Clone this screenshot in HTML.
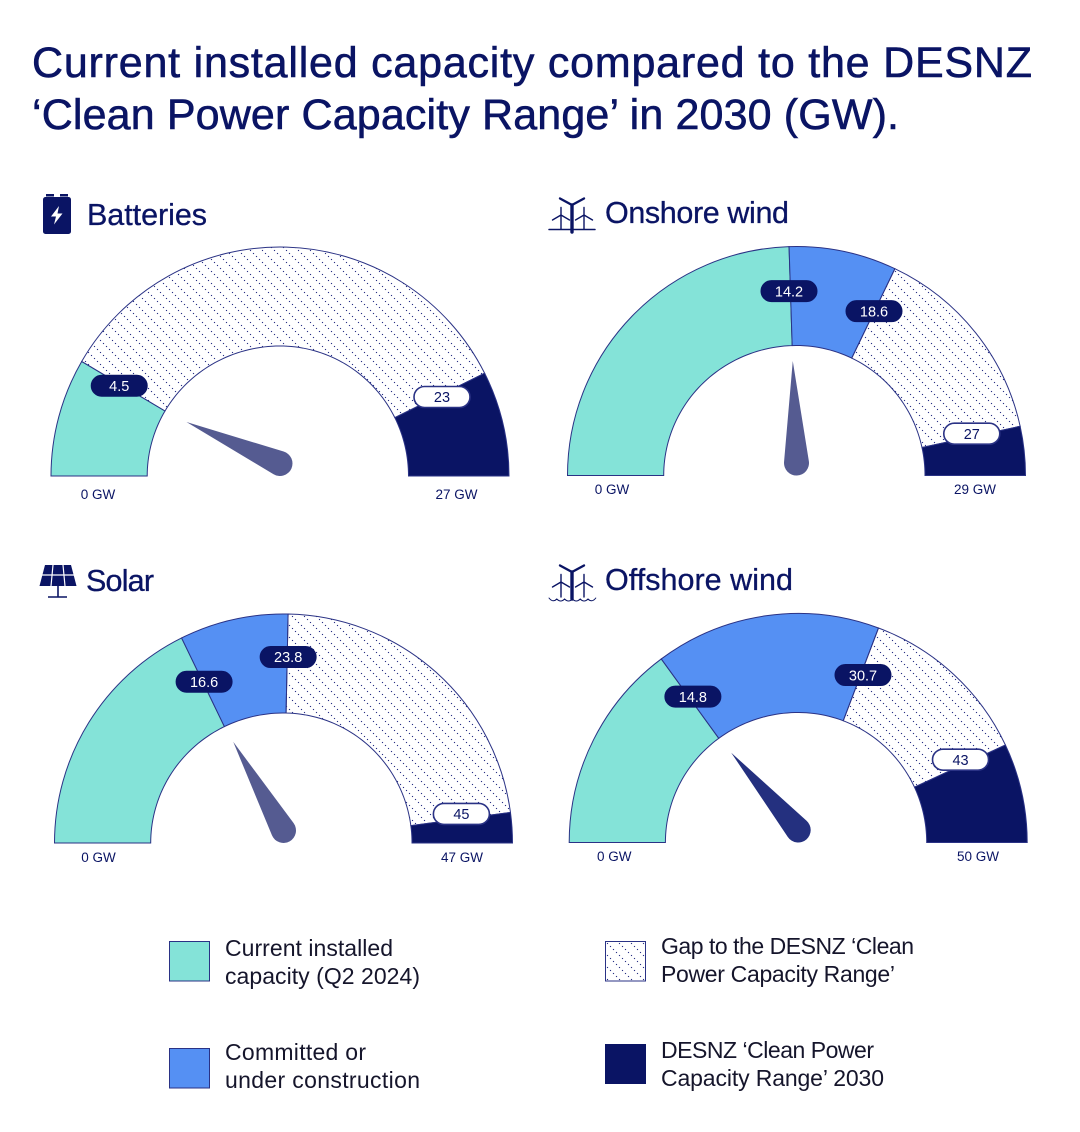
<!DOCTYPE html>
<html lang="en">
<head>
<meta charset="utf-8">
<title>Current installed capacity compared to the DESNZ Clean Power Capacity Range</title>
<style>
html,body{margin:0;padding:0;background:#fff;width:1080px;height:1132px;overflow:hidden}
svg{display:block}
text{font-family:"Liberation Sans",sans-serif}
.title{font-size:43px;fill:#0a1464;stroke:#0a1464;stroke-width:.6px}
.sub{font-size:30.5px;fill:#0a1464;stroke:#0a1464;stroke-width:.3px}
.legend{font-size:23px;fill:#15152b}
.axis{font-size:13.5px;fill:#0a1464}
.pill{font-size:14.5px;text-anchor:middle}
</style>
</head>
<body>
<svg id="chart" xmlns="http://www.w3.org/2000/svg" width="1080" height="1132" viewBox="0 0 1080 1132">
  <defs>
    <pattern id="hatch" width="12" height="12" patternUnits="userSpaceOnUse">
      <circle cx="1.500" cy="1.500" r=".65" fill="#2a3285"/>
      <circle cx="4.500" cy="4.500" r=".65" fill="#2a3285"/>
      <circle cx="7.500" cy="7.500" r=".65" fill="#2a3285"/>
      <circle cx="10.500" cy="10.500" r=".65" fill="#2a3285"/>
    </pattern>
  </defs>
  <rect width="1080" height="1132" fill="#fff"/>

  <g>
    <text class="title" x="32" y="77" textLength="1000" lengthAdjust="spacing">Current installed capacity compared to the DESNZ</text>
    <text class="title" x="32" y="129" textLength="867" lengthAdjust="spacing">‘Clean Power Capacity Range’ in 2030 (GW).</text>
  </g>

  <g>
    <g>
      <rect x="46" y="194" width="8" height="2.500" fill="#0a1464"/>
      <rect x="60" y="194" width="8" height="2.500" fill="#0a1464"/>
      <rect x="43" y="197" width="28" height="37" rx="2.500" fill="#0a1464"/>
      <path d="M59 206 L51 216.500 H56 L54 224.500 L62.500 213.500 H57.500 Z" fill="#fff"/>
    </g>
    <text class="sub" x="87" y="225" textLength="120" lengthAdjust="spacing">Batteries</text>
  </g>

  <g>
    <g fill="none" stroke="#0a1464" stroke-linecap="round">
      <path d="M549 229.500 H595" stroke-width="1.500"/>
      <path d="M572 205 L560 198.500 M572 205 L584 198.500" stroke-width="2.400"/>
      <path d="M572 205 V232" stroke-width="3.400"/>
      <path d="M561 207.500 V229 M561 215 L552.500 220 M561 215 L569.500 220" stroke-width="1.400"/>
      <path d="M584 207.500 V229 M584 215 L575.500 220 M584 215 L592.500 220" stroke-width="1.400"/>
    </g>
    <text class="sub" x="605" y="223" textLength="184" lengthAdjust="spacing">Onshore wind</text>
  </g>

  <g>
    <g>
      <path d="M45 565 H71 L76.500 586 H39.500 Z" fill="#0a1464"/>
      <path d="M53 565 L51 586 M63 565 L65 586 M42 575 H74" stroke="#fff" stroke-width="1.200" fill="none"/>
      <path d="M58 586 V597 M48 597 H67" stroke="#0a1464" stroke-width="1.600" fill="none"/>
    </g>
    <text class="sub" x="86" y="591" textLength="68" lengthAdjust="spacing">Solar</text>
  </g>

  <g>
    <g fill="none" stroke="#0a1464" stroke-linecap="round">
      <path d="M572 572 L560 565.500 M572 572 L584 565.500" stroke-width="2.400"/>
      <path d="M572 572 V599" stroke-width="3.400"/>
      <path d="M561 574.500 V597 M561 582 L552.500 587 M561 582 L569.500 587" stroke-width="1.400"/>
      <path d="M584 574.500 V597 M584 582 L575.500 587 M584 582 L592.500 587" stroke-width="1.400"/>
      <path d="M549 598 q3.900 5 7.800 1 q3.900 4 7.800 0 q3.900 4 7.800 0 q3.900 4 7.800 0 q3.900 4 7.800 0 q3.900 4 7.800 -1" stroke-width="1"/>
    </g>
    <text class="sub" x="605" y="590" textLength="188" lengthAdjust="spacing">Offshore wind</text>
  </g>

  <g id="gauges"></g>

  <g>
    <g>
      <rect x="169.500" y="941.500" width="40" height="39.500" fill="#84e3d8" stroke="#2a3285"/>
      <text class="legend" x="225" y="956" textLength="168" lengthAdjust="spacing">Current installed</text>
      <text class="legend" x="225" y="984" textLength="195" lengthAdjust="spacing">capacity (Q2 2024)</text>
    </g>
    <g>
      <rect x="169.500" y="1048.500" width="40" height="39.500" fill="#5590f3" stroke="#2a3285"/>
      <text class="legend" x="225" y="1060" textLength="141" lengthAdjust="spacing">Committed or</text>
      <text class="legend" x="225" y="1088" textLength="195" lengthAdjust="spacing">under construction</text>
    </g>
    <g>
      <rect x="605.500" y="941.500" width="40" height="39.500" fill="url(#hatch)" stroke="#2a3285"/>
      <text class="legend" x="661" y="954" textLength="253" lengthAdjust="spacing">Gap to the DESNZ ‘Clean</text>
      <text class="legend" x="661" y="982" textLength="234" lengthAdjust="spacing">Power Capacity Range’</text>
    </g>
    <g>
      <rect x="605" y="1044" width="41" height="40" fill="#0a1464"/>
      <text class="legend" x="661" y="1058" textLength="213" lengthAdjust="spacing">DESNZ ‘Clean Power</text>
      <text class="legend" x="661" y="1086" textLength="223" lengthAdjust="spacing">Capacity Range’ 2030</text>
    </g>
  </g>
</svg>

<script>
// Chart data
const gaugeKeys = ['batteries', 'onshore-wind', 'solar', 'offshore-wind'];
const axisMaxValues = [27, 29, 47, 50];
const installedValues = [4.5, 14.2, 16.6, 14.8];
const committedValues = [null, 18.6, 23.8, 30.7];
const rangeStartValues = [23, 27, 45, 43];
const axisMinLabels = ['0 GW', '0 GW', '0 GW', '0 GW'];
const axisMaxLabels = ['27 GW', '29 GW', '47 GW', '50 GW'];

// Layout (not data)
const centerXs = [280, 796.5, 283.5, 798.2];
const baselineYs = [476, 475.5, 843, 842.5];
const needleColors = ['#555b91', '#555b91', '#555b91', '#24307f'];
const needleLengths = [108, 114.5, 113, 112];
const axisLabelDrops = [23, 18.5, 19, 18.5];
const axisMinOffsets = [-182, -184.5, -185, -184];
const axisMaxOffsets = [176.5, 178.5, 178.5, 179.8];
const installedPillNudges = [[-1, 2], [-1.5, 0], [2.7, 4], [5, 2]];
const committedPillNudges = [[0, 0], [-0.7, 0], [1, -4], [1, 3]];
const rangePillNudges = [[0.7, 2], [-1, -3], [-1, -5], [-1, -6]];
const OUTER_R = 229;
const INNER_RX_LEFT = 132.8;
const INNER_RX_RIGHT = 128.5;
const INNER_RY = 130;
const HUB_R = 12.5;
const NS = 'http://www.w3.org/2000/svg';
const root = document.getElementById('gauges');

function angleOf(value, max) {
  return Math.PI * value / max;
}
function polar(cx, cy, r, a) {
  return [cx - r * Math.cos(a), cy - r * Math.sin(a)];
}
function innerPoint(cx, cy, a) {
  const c = Math.cos(a);
  const rx = c > 0 ? INNER_RX_LEFT : INNER_RX_RIGHT;
  return [cx - rx * c, cy - INNER_RY * Math.sin(a)];
}
function fmt(n) {
  return n.toFixed(2);
}
function segmentPath(cx, cy, a0, a1) {
  const p0 = polar(cx, cy, OUTER_R, a0);
  const p1 = polar(cx, cy, OUTER_R, a1);
  let d = 'M' + fmt(p0[0]) + ' ' + fmt(p0[1]) +
    ' A' + OUTER_R + ' ' + OUTER_R + ' 0 0 1 ' + fmt(p1[0]) + ' ' + fmt(p1[1]);
  const steps = Math.max(2, Math.ceil((a1 - a0) / 0.03));
  for (let s = 0; s <= steps; s++) {
    const a = a1 + (a0 - a1) * s / steps;
    const p = innerPoint(cx, cy, a);
    d += ' L' + fmt(p[0]) + ' ' + fmt(p[1]);
  }
  return d + ' Z';
}
function make(tag, attrs, parent) {
  const el = document.createElementNS(NS, tag);
  Object.keys(attrs).forEach(function (k) { el.setAttribute(k, attrs[k]); });
  parent.appendChild(el);
  return el;
}
function drawSegment(group, key, kind, cx, cy, from, to, max, fill) {
  const el = make('path', {
    d: segmentPath(cx, cy, angleOf(from, max), angleOf(to, max)),
    fill: fill,
    stroke: '#2a3285',
    'stroke-width': 1
  }, group);
  
  
}
function drawPill(group, key, value, cx, cy, radius, max, light, nudge) {
  const p = polar(cx, cy, radius, angleOf(value, max));
  const px = p[0] + nudge[0];
  const py = p[1] + nudge[1];
  const g = make('g', {}, group);
  
  
  make('rect', {
    x: fmt(px - 28), y: fmt(py - 10.5), width: 56, height: 21, rx: 10.5,
    fill: light ? '#fff' : '#0a1464',
    stroke: light ? '#2a3285' : '#0a1464',
    'stroke-width': light ? 1.6 : 1
  }, g);
  const t = make('text', {
    class: 'pill', x: fmt(px), y: fmt(py + 5.2),
    fill: light ? '#0a1464' : '#fff'
  }, g);
  t.textContent = String(value);
}
function drawNeedle(group, key, value, cx, cy, max, color, length) {
  const a = angleOf(value, max);
  const hubX = cx;
  const hubY = cy - HUB_R;
  const tip = polar(cx, cy, length, a);
  const dx = tip[0] - hubX;
  const dy = tip[1] - hubY;
  const d = Math.sqrt(dx * dx + dy * dy);
  const base = Math.atan2(dy, dx);
  const spread = Math.acos(HUB_R / d);
  const t1 = [hubX + HUB_R * Math.cos(base + spread), hubY + HUB_R * Math.sin(base + spread)];
  const t2 = [hubX + HUB_R * Math.cos(base - spread), hubY + HUB_R * Math.sin(base - spread)];
  const el = make('path', {
    d: 'M' + fmt(tip[0]) + ' ' + fmt(tip[1]) + ' L' + fmt(t1[0]) + ' ' + fmt(t1[1]) +
       ' A' + HUB_R + ' ' + HUB_R + ' 0 1 1 ' + fmt(t2[0]) + ' ' + fmt(t2[1]) + ' Z',
    fill: color
  }, group);
  
  
}
function drawAxisLabel(group, key, which, text, x, y) {
  const t = make('text', { class: 'axis', x: fmt(x), y: fmt(y), 'text-anchor': 'middle' }, group);
  t.textContent = text;
  
  
}

gaugeKeys.forEach(function (key, i) {
  const cx = centerXs[i];
  const cy = baselineYs[i];
  const max = axisMaxValues[i];
  const installed = installedValues[i];
  const committed = committedValues[i];
  const rangeStart = rangeStartValues[i];
  const group = make('g', {}, root);
  
  

  drawSegment(group, key, 'installed', cx, cy, 0, installed, max, '#84e3d8');
  const gapStart = committed === null ? installed : committed;
  if (committed !== null) {
    drawSegment(group, key, 'committed', cx, cy, installed, committed, max, '#5590f3');
  }
  drawSegment(group, key, 'gap', cx, cy, gapStart, rangeStart, max, 'url(#hatch)');
  drawSegment(group, key, 'range', cx, cy, rangeStart, max, max, '#0a1464');

  drawNeedle(group, key, installed, cx, cy, max, needleColors[i], needleLengths[i]);

  drawPill(group, key, installed, cx, cy, 184.5, max, false, installedPillNudges[i]);
  if (committed !== null) {
    drawPill(group, key, committed, cx, cy, 182, max, false, committedPillNudges[i]);
  }
  drawPill(group, key, rangeStart, cx, cy, 180.5, max, true, rangePillNudges[i]);

  drawAxisLabel(group, key, 'min', axisMinLabels[i], cx + axisMinOffsets[i], cy + axisLabelDrops[i]);
  drawAxisLabel(group, key, 'max', axisMaxLabels[i], cx + axisMaxOffsets[i], cy + axisLabelDrops[i]);
});
</script>
</body>
</html>
